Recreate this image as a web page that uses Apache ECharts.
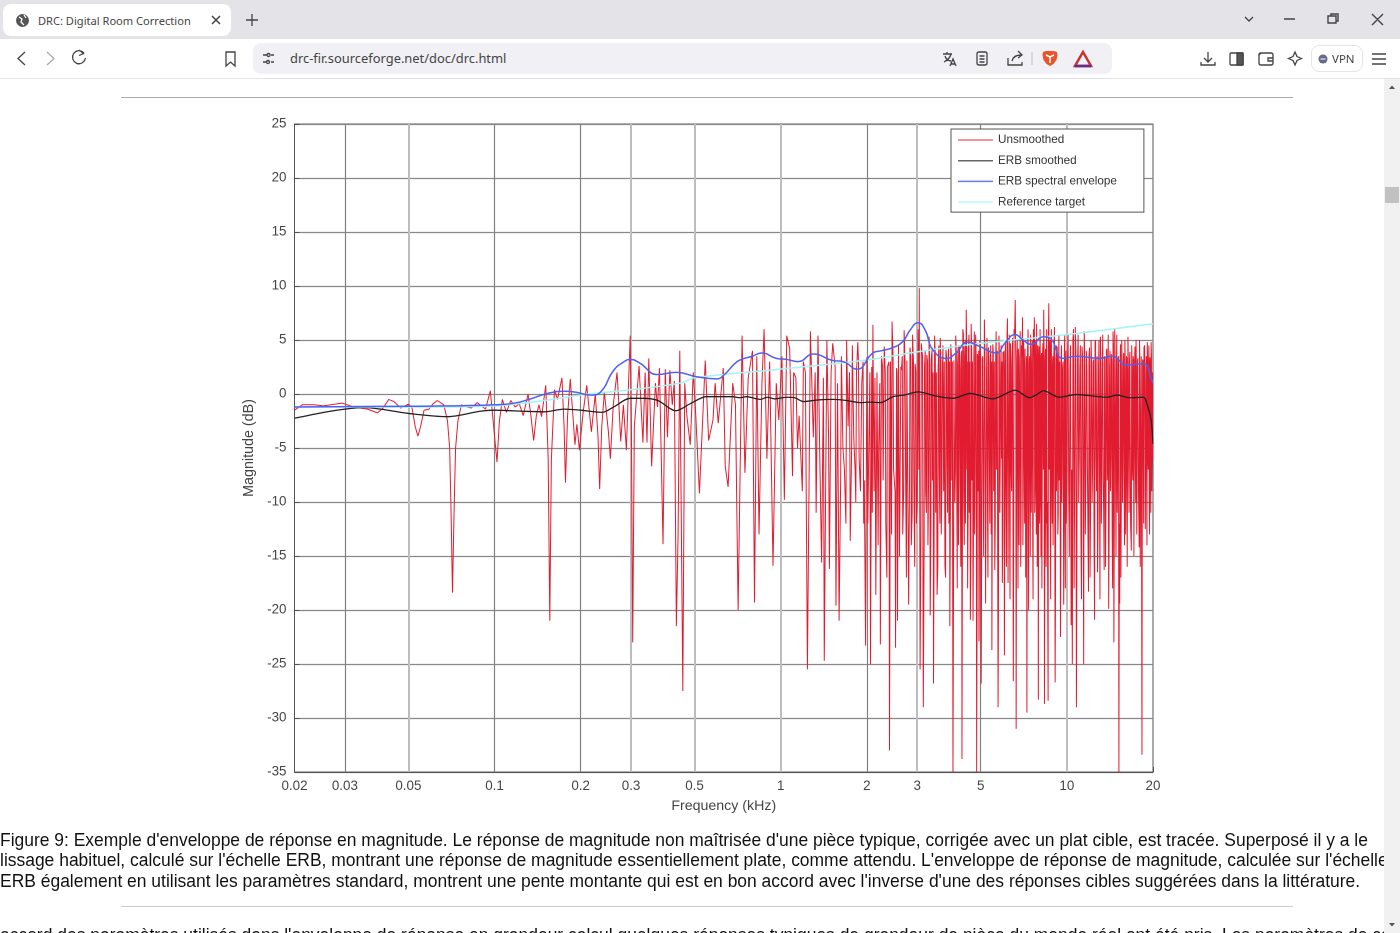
<!DOCTYPE html>
<html><head><meta charset="utf-8">
<script src="https://cdn.jsdelivr.net/npm/echarts@6/dist/echarts.min.js"></script>
<style>
html,body{margin:0;padding:0;width:1400px;height:933px;overflow:hidden;background:#fff;font-family:"Liberation Sans",Arial,sans-serif}
.abs{position:absolute}
#chart{position:absolute;left:0;top:0;width:1400px;height:933px}
.ui{font-family:"Noto Sans",sans-serif;color:#444;white-space:nowrap}
.cap{position:absolute;left:0;width:1384px;overflow:hidden;white-space:nowrap;font-size:17.47px;line-height:20px;color:#111}
svg{position:absolute;overflow:visible}
</style></head><body>
<div id="chart"></div>
<div class="abs" style="left:0;top:0;width:1400px;height:39px;background:#e3e3e8"></div>
<div class="abs" style="left:3px;top:4px;width:228px;height:32px;background:#fff;border-radius:8px"></div>
<div class="abs" style="left:253px;top:43px;width:859px;height:31px;background:#f1f1f5;border-radius:8px"></div>
<div class="abs ui" style="left:38px;top:12px;font-size:11.1px;line-height:17px">DRC: Digital Room Correction</div>
<svg style="left:0;top:0" width="1400" height="80" fill="none" stroke="#444" stroke-width="1.3">
<circle cx="22.5" cy="20.5" r="6.5" fill="#555" stroke="none"/><path d="M19 17l3 2-1 3 3 3M24 15l2 3" stroke="#fff"/>
<path d="M212 16l8 8M220 16l-8 8" stroke-width="1.5"/><path d="M252 14v12M246 20h12"/>
<path d="M1245 17l4 4 4-4M1284 19h11" /><path d="M1328 16h8v7h-8zM1331 16v-2h7v7h-2M1372 14l11 11M1383 14l-11 11" stroke-width="1.4"/>
<path d="M25 52l-7 6.5 7 6.5"/><path d="M47 52l7 6.5-7 6.5" stroke="#aaa"/><path d="M84 53a6.5 6.5 0 1 0 1.5 5M79 50l4.5 3.5-4.5 2"/>
<path d="M226 52h9v14l-4.5-4-4.5 4z"/><path d="M263 55h4M271 55h3M263 62h3M271 62h3"/><circle cx="268.5" cy="55" r="1.5"/><circle cx="268" cy="62" r="1.5"/>
<path d="M943 54h9M947 52v2M951 54c-1 4-3 6-7 8M945 56c1 3 3 5 6 5M950 66l3-7 3 7M951 64h4"/><rect x="977" y="52" width="10" height="13" rx="2"/><path d="M979.500 56h5M979.500 59h5M979.500 62h5"/>
<path d="M1008 58v7h14v-3M1012 61c1-4 4-6 9-6M1018 51l4 4-4 3"/><path d="M1032 52v13" stroke="#ccc"/>
<path d="M1043 52l3-1h8l3 1 .5 3-1 5-3 4-3.500 2-3.500-2-3-4-1-5z" fill="#e8552d" stroke="none"/><path d="M1046 55l4 2 4-2M1050 57v6" stroke="#fff" stroke-width="1.500"/>
<path d="M1083 52l8 14h-16z" fill="none" stroke="#c8302c" stroke-width="2.500"/><path d="M1075 66h16" stroke="#662d91" stroke-width="2.500"/>
<path d="M1208 52v9M1204 58l4 4 4-4M1201 62v3h14v-3"/><rect x="1230" y="53" width="13" height="12" rx="1"/><rect x="1237" y="53" width="6" height="12" fill="#555"/>
<rect x="1259" y="53" width="14" height="12" rx="2"/><path d="M1273 58h-5v3h5M1259 55l2-2"/><path d="M1295 52l2 4.500 4.500 2-4.500 2-2 4.500-2-4.500-4.500-2 4.500-2z"/>
<path d="M1372 54h14M1372 59h14M1372 64h14" stroke-width="1.500"/>
</svg>
<div class="abs" style="left:0;top:78px;width:1400px;height:1px;background:#e2e2e2"></div>
<div class="abs ui" style="left:290px;top:49px;font-size:12.9px;line-height:19px">drc-fir.sourceforge.net/doc/drc.html</div>
<div class="abs ui" style="left:1311px;top:45px;width:52px;height:27px;border:1px solid #e4e4e8;border-radius:8px;box-sizing:border-box"></div>
<svg style="left:0;top:0" width="1400" height="80"><circle cx="1323" cy="59" r="4.500" fill="#666a8a"/><path d="M1320.500 59h5" stroke="#fff"/></svg>
<div class="abs ui" style="left:1332px;top:51px;font-size:11.5px;line-height:15px">VPN</div>
<div class="abs" style="left:121px;top:97px;width:1172px;height:1px;background:#aaa"></div>
<div class="abs" style="left:1384px;top:79px;width:16px;height:854px;background:#f1f1f1"></div>
<div class="abs" style="left:1385px;top:187px;width:14px;height:16px;background:#c1c1c1"></div>
<svg style="left:0;top:0" width="1400" height="933"><path d="M1389 89l3-3.500 3 3.500zM1389 923l3 3.500 3-3.500z" fill="#555"/></svg>
<div class="cap" style="top:830px">Figure 9: Exemple d'enveloppe de réponse en magnitude. Le réponse de magnitude non maîtrisée d'une pièce typique, corrigée avec un plat cible, est tracée. Superposé il y a le</div>
<div class="cap" style="top:850px">lissage habituel, calculé sur l'échelle ERB, montrant une réponse de magnitude essentiellement plate, comme attendu. L'enveloppe de réponse de magnitude, calculée sur l'échelle</div>
<div class="cap" style="top:870.5px">ERB également en utilisant les paramètres standard, montrent une pente montante qui est en bon accord avec l'inverse d'une des réponses cibles suggérées dans la littérature.</div>
<div class="abs" style="left:121px;top:906px;width:1172px;height:1px;background:#ccc"></div>
<div class="cap" style="top:925px">accord des paramètres utilisés dans l'enveloppe de réponse en grandeur calcul quelques réponses typiques de grandeur de pièce du monde réel ont été pris. Les paramètres de calcul</div>
<script>
const xTicks=[0.02,0.03,0.05,0.1,0.2,0.3,0.5,1,2,3,5,10,20];
const narrowGrid=[0.03,0.1,0.2,2,5];
const wideGrid=[0.05,0.3,0.5,1,3,10];
const redLow=[[.02,-1.5],[.0205,-1.3],[.0213,-1],[.0234,-1],[.0253,-1.1],[.0275,-.95],[.0294,-.85],[.0322,-1.2],[.036,-1.4],[.039,-1.75],[.0408,-1.3],[.0427,-.5],[.0445,-.7],[.047,-1.3],[.05,-.95],[.0515,-1.3],[.0528,-3],[.054,-3.9],[.0552,-3],[.0567,-1.5],[.059,-1.4],[.061,-.9],[.0631,-.6],[.0665,-1],[.0685,-2.5],[.0697,-5],[.0705,-11],[.0713,-18.4],[.0722,-11],[.0731,-5],[.0745,-2.5],[.0766,-1],[.08,-1.2],[.083,-1.3],[.087,-.8],[.093,-1.4],[.0967,.3],[.0985,-2],[.102,-6.3],[.104,-2.5],[.1065,-.5],[.11,-1.7],[.114,-.6],[.118,-1.2],[.122,-.9],[.126,-2],[.131,0],[.134,-2],[.137,-4.3],[.14,-2],[.143,-1],[.146,-2.1],[.151,.8],[.154,-6],[.156,-21],[.158,-6],[.162,.4],[.166,-.5],[.172,1.5],[.175,-3],[.177,-8.2],[.18,-2],[.184,1.4],[.191,-4.7],[.194,-2.8],[.198,-5.2],[.204,-1.7],[.21,.8],[.218,-3.5],[.225,0],[.23,-4],[.233,-8.8],[.237,-3],[.242,.2],[.25,-3.5],[.254,-6],[.26,-1],[.268,2],[.272,-1],[.276,-4.4],[.282,-1],[.289,-5.2],[.294,1],[.298,5.4],[.301,-4],[.304,-23],[.308,-3],[.32,2.6],[.33,-4.5],[.336,2],[.341,-4.5]];
const redMid=[[.346,3.3],[.354,-6.7],[.365,1],[.371,-1.2],[.377,2.4],[.388,-13.9],[.395,2.3],[.402,-4],[.41,2.2],[.418,-1],[.425,1.2],[.432,-21.5],[.438,-13],[.444,4],[.455,-27.5],[.462,1],[.47,-2],[.483,-4.7],[.495,2],[.505,-2],[.52,-9.2],[.545,3.1],[.56,-4.3],[.58,-2.4],[.59,1],[.605,-2.7],[.63,2.4],[.64,-6.7],[.655,-8.6],[.68,1],[.695,-1],[.71,-20],[.733,5.4],[.75,-7.3],[.77,1.5],[.797,4],[.81,-19.3],[.825,3.5],[.84,-13],[.86,1],[.875,6],[.895,-6],[.915,3],[.94,-15.9],[.965,1],[.985,-2.4],[1.01,3.5],[1.03,-9.8],[1.05,5.4],[1.075,4.2],[1.1,-7.6],[1.13,1.5],[1.16,-2],[1.2,3],[1.24,-25.5],[1.27,5.8],[1.3,-4],[1.32,2],[1.35,5.4],[1.37,-6],[1.39,-15.6],[1.42,-24.7],[1.45,5],[1.48,-16.2],[1.5,2],[1.52,4.7],[1.56,-19.6],[1.58,1],[1.6,-21],[1.63,3.5],[1.65,-5],[1.67,-7],[1.7,5],[1.72,-3],[1.75,-13.6],[1.78,4.5],[1.8,-4],[1.82,-7],[1.84,2],[1.86,4.8],[1.88,-6],[1.9,-9],[1.92,1],[1.94,3],[1.96,-8]];
const redHighA=[[1.98,-23.3],[2.0,3.4],[2.03,-6],[2.06,-25],[2.08,2.5],[2.1,6.4],[2.12,-9],[2.15,-18.6],[2.17,2],[2.2,-5],[2.23,-23.2],[2.25,3.5],[2.28,-8],[2.3,4.4],[2.33,-12],[2.36,2.5],[2.4,-33],[2.42,3],[2.45,6.7],[2.48,-7],[2.52,-23.5],[2.54,2.4],[2.56,-21],[2.58,4.6],[2.61,-10],[2.64,2.2],[2.67,-13],[2.7,5.9],[2.73,-6],[2.76,3.1],[2.8,-19.5],[2.83,4.3],[2.86,-14],[2.89,5.5],[2.92,-8],[2.95,2.8],[2.98,-12],[3.02,6],[3.05,9.8],[3.07,-25.5],[3.1,4.7],[3.15,-29],[3.18,2.5],[3.21,-9],[3.24,3.6],[3.27,-14],[3.3,5.3],[3.33,-20.5],[3.36,3.2],[3.39,-8],[3.42,-26.8],[3.45,5.4],[3.48,-11],[3.52,-18.6],[3.55,2.4],[3.58,-7],[3.61,5.2],[3.64,-13],[3.67,1.8],[3.71,-9],[3.75,-15.9],[3.78,4.1],[3.81,-6],[3.84,2.7],[3.87,-12],[3.9,-21.5],[3.93,4.6],[3.96,-8],[4.0,-35],[4.03,3.1],[4.06,-10],[4.09,5.4],[4.12,-7],[4.15,2.6],[4.18,-14],[4.21,4.4],[4.24,-6],[4.27,2.3],[4.3,-33.8],[4.33,6],[4.36,-9],[4.39,3.4],[4.42,-12],[4.45,7.8],[4.48,-7],[4.5,-18],[4.53,4.2],[4.56,-11],[4.6,-20.9],[4.63,6.5],[4.66,-8],[4.7,-21],[4.73,3.3],[4.76,-13],[4.8,5.5],[4.84,-35],[4.87,3.7],[4.9,-9],[4.93,-22.9],[4.96,4.9],[5.02,-26.8]];
const redHighB=[[5.06,3.2],[5.1,-8],[5.15,6.9],[5.2,-19.4],[5.24,2.3],[5.28,-10],[5.32,4.3],[5.36,-6],[5.4,2.8],[5.44,-13],[5.47,-23.7],[5.51,4.6],[5.55,-9],[5.6,-16.3],[5.64,3.1],[5.68,-7],[5.75,-29],[5.79,5.4],[5.83,-11],[5.87,2.2],[5.91,-6],[5.95,-17.5],[5.98,3.9],[6.05,-24.2],[6.08,2.4],[6.12,-8],[6.2,7],[6.23,-17.5],[6.27,3.2],[6.31,-12],[6.35,4.7],[6.39,-7],[6.43,2.6],[6.5,-26.6],[6.54,6],[6.6,8.7],[6.65,-31],[6.69,3.4],[6.73,-10],[6.77,4.2],[6.81,-14],[6.85,2.3],[6.9,-16],[6.94,4.5],[7.0,7.1],[7.04,-9],[7.08,3.1],[7.12,-12],[7.16,2.2],[7.2,-7],[7.25,-29.5],[7.29,4.1],[7.35,-20],[7.39,2.9],[7.43,-8],[7.47,5.5],[7.51,-11],[7.55,2.4],[7.6,-14],[7.64,6],[7.7,7.1],[7.74,-9],[7.78,2.7],[7.82,-13],[7.86,3.3],[7.9,-7],[7.95,-28.3],[8.0,4.4],[8.04,-10],[8.08,2.2],[8.12,-15],[8.16,3.8],[8.2,-8],[8.25,4.7],[8.3,7.8],[8.35,-28.7],[8.4,3.1],[8.44,-9],[8.48,2.5],[8.52,-12],[8.6,-28.4],[8.65,8.4],[8.7,3.3],[8.75,-11],[8.8,4.3],[8.85,-7],[8.9,2.4],[8.95,-14],[9.0,3.2],[9.1,-26.7],[9.15,2.8],[9.2,-9],[9.25,4.4],[9.3,-13],[9.35,2.1],[9.4,-8],[9.5,-22.5],[9.55,3.4],[9.6,-10],[9.65,2.2],[9.75,-19.5],[9.8,3.9],[9.85,-7],[9.9,2.5],[9.95,-12]];
const redHighC=[[10.05,3.3],[10.15,-9],[10.25,2.4],[10.35,-21.4],[10.45,-25],[10.55,6],[10.65,-8],[10.7,6.2],[10.8,-29],[10.9,3.1],[11.0,-10],[11.1,2.3],[11.2,-13],[11.3,4.4],[11.45,-25],[11.55,3.2],[11.65,-8],[11.75,2.1],[11.9,-18.3],[12.0,4.3],[12.1,-11],[12.2,2.8],[12.3,-7],[12.4,3.2],[12.5,-20.9],[12.6,4.8],[12.7,-9],[12.8,-16.5],[12.9,2.2],[13.0,-7],[13.1,5.3],[13.2,-12],[13.3,2.4],[13.4,-8],[13.5,-16.3],[13.6,3.3],[13.7,-10],[13.8,4.2],[13.9,-6],[14,-19.9],[14.1,2.3],[14.2,-9],[14.3,3.7],[14.4,-13],[14.5,5.8],[14.6,-23],[14.7,6],[14.8,-8],[14.9,2.2],[15.0,-11],[15.1,3.2],[15.2,-35],[15.3,-19.4],[15.4,4.6],[15.5,-9],[15.6,2.4],[15.7,-7],[15.8,3.8],[15.9,-14],[16,2.2],[16.1,-8],[16.2,3.3],[16.3,-6],[16.4,2.3],[16.5,-11],[16.6,3.9],[16.8,-14.5],[16.9,2.4],[17,-8],[17.1,3.1],[17.2,-6],[17.3,4.4],[17.4,-10],[17.5,2.2],[17.6,-7],[17.7,3.3],[17.9,-14.2],[18,2.4],[18.1,-9],[18.3,-33.4],[18.4,3.2],[18.5,-6],[18.6,4.3],[18.8,-12.5],[18.9,2.2],[19,-8],[19.1,4.8],[19.2,-6],[19.3,2.6],[19.4,-10],[19.5,3.4],[19.6,-7],[19.7,4.8],[19.8,-9],[19.9,2],[20,-6]];
const redFillA=[[1.11,2],[1.145,-5],[1.19,-9],[1.22,2],[1.285,1],[1.33,-11],[1.41,1.5],[1.47,-4],[1.55,2.5],[1.62,-8],[1.69,-12],[1.74,2],[1.77,-5],[1.83,-10],[1.87,3],[1.95,-12],[2.015,-12],[2.05,2],[2.09,-11],[2.135,1.5],[2.19,-14],[2.22,1],[2.27,2.5],[2.32,2],[2.35,-17],[2.39,3],[2.44,-13],[2.47,3.5],[2.51,-9],[2.55,2],[2.6,-15],[2.63,2.5],[2.66,3.5],[2.69,-9],[2.72,3],[2.75,-17],[2.79,3],[2.82,-8],[2.85,3.5],[2.88,-11],[2.91,3],[2.94,-16],[2.97,2],[3.0,-10],[3.04,-7],[3.09,-13],[3.13,3.5],[3.17,-15],[3.2,4],[3.23,-11],[3.26,3],[3.29,-7],[3.32,2.5],[3.35,-12],[3.38,4.2],[3.41,2],[3.44,-9],[3.47,3.5],[3.5,2],[3.54,-16],[3.57,4.5],[3.6,-12],[3.63,3],[3.66,-8],[3.69,4.5],[3.73,3],[3.77,-17],[3.8,3.5],[3.83,-11],[3.86,4.2],[3.89,3],[3.92,-9],[3.95,3.5],[3.98,3],[4.02,-15],[4.05,3],[4.08,-7],[4.11,3.5],[4.14,-18],[4.17,4.5],[4.2,-8],[4.23,3.5],[4.26,-16],[4.29,4],[4.32,-7],[4.35,5.5],[4.38,-14],[4.41,5],[4.44,-6],[4.47,4],[4.49,3],[4.52,-10],[4.55,5.5],[4.58,3],[4.62,-15],[4.65,4],[4.68,3],[4.72,-11],[4.75,5.8],[4.78,-7],[4.82,3.5],[4.86,-15],[4.89,3],[4.92,4],[4.95,-13],[4.99,3.5]];
const redFillB=[[5.04,-13],[5.08,3.5],[5.12,-15],[5.17,4],[5.22,-9],[5.26,5.2],[5.3,-17],[5.34,3.5],[5.38,-12],[5.42,4.5],[5.46,3],[5.49,-8],[5.53,4],[5.58,3],[5.62,-12],[5.66,5.8],[5.71,4],[5.77,-18],[5.81,3.5],[5.85,-6],[5.89,4.5],[5.93,3],[5.97,-13],[6.01,3.5],[6.03,4],[6.07,-11],[6.1,5],[6.15,-16],[6.18,5.5],[6.25,-7],[6.29,5.5],[6.33,-19],[6.37,3.5],[6.41,-9],[6.46,5.2],[6.52,-12],[6.57,5.5],[6.63,3],[6.67,-9],[6.71,5],[6.75,-18],[6.79,3.5],[6.83,-7],[6.87,5.8],[6.92,-11],[6.97,3.5],[7.02,-14],[7.06,5],[7.1,-6],[7.14,4.2],[7.18,-17],[7.23,3.5],[7.27,-12],[7.32,6],[7.37,-8],[7.41,3.5],[7.45,-15],[7.49,4],[7.53,-6],[7.57,5],[7.62,-19],[7.67,3.5],[7.72,-11],[7.76,5],[7.8,-8],[7.84,6.5],[7.88,-16],[7.92,4.5],[7.97,3],[8.02,-12],[8.06,6],[8.1,-9],[8.14,3.5],[8.18,-18],[8.22,3.5],[8.28,-7],[8.33,3],[8.38,-13],[8.42,4.2],[8.46,-16],[8.5,6],[8.55,-10],[8.62,5.5],[8.68,-7],[8.73,5],[8.78,-19],[8.83,6],[8.88,-12],[8.93,3.5],[8.98,-8],[9.05,6.2],[9.13,-17],[9.18,4.5],[9.23,-6],[9.28,3],[9.33,-11],[9.38,5.5],[9.45,3],[9.53,-15],[9.58,4.5],[9.63,-7],[9.7,3],[9.78,-12],[9.83,5.5],[9.88,-18],[9.93,4],[10,-8]];
const redFillC=[[10.1,5.5],[10.2,-15],[10.3,4.5],[10.4,-7],[10.5,5],[10.6,-18],[10.75,4],[10.85,-12],[10.95,5.5],[11.05,-6],[11.15,4.5],[11.25,-19],[11.35,3.5],[11.4,-8],[11.5,5.8],[11.6,-13],[11.7,4],[11.8,-7],[11.95,3.5],[12.05,-17],[12.15,5],[12.25,-10],[12.35,3],[12.45,-14],[12.55,5],[12.65,-6],[12.75,3.5],[12.85,-12],[12.95,5],[13.05,-19],[13.15,3],[13.25,-7],[13.35,5.5],[13.45,-11],[13.55,3.5],[13.65,-16],[13.75,4],[13.85,-8],[13.95,5.5],[14.05,-13],[14.15,4],[14.25,-6],[14.35,3],[14.45,-18],[14.55,4.5],[14.65,-11],[14.75,3],[14.85,-15],[14.95,5.5],[15.05,-7],[15.15,3.5],[15.25,-12],[15.35,3],[15.45,-17],[15.55,5],[15.65,-10],[15.75,3],[15.85,-6],[15.95,5],[16.05,-13],[16.15,3.5],[16.25,-16],[16.35,5.3],[16.45,-8],[16.55,3],[16.7,-12],[16.85,4.5],[16.95,-7],[17.05,3.5],[17.15,-15],[17.25,3],[17.35,-6],[17.45,5],[17.55,-13],[17.65,3],[17.8,-9],[17.95,5],[18.05,-16],[18.2,3.5],[18.35,-7],[18.45,3],[18.55,-12],[18.7,4.5],[18.85,-6],[18.95,3.5],[19.05,-14],[19.15,3],[19.25,-7],[19.35,4.5],[19.45,-13],[19.55,3],[19.65,-11],[19.75,3.5],[19.85,-5]];
const erbSmoothed=[[.02,-2.25],[.0253,-1.7],[.03,-1.4],[.0349,-1.25],[.05,-1.8],[.0683,-2.1],[.089,-1.6],[.1,-1.5],[.127,-1.6],[.149,-1.65],[.175,-1.4],[.2,-1.5],[.238,-1.7],[.261,-1.2],[.298,-.4],[.33,-.4],[.372,-.6],[.43,-1.55],[.483,-.9],[.55,-.25],[.68,-.25],[.72,-.35],[.76,-.25],[.847,-.5],[.9,-.3],[.95,-.45],[1.05,-.3],[1.12,-.35],[1.2,-.7],[1.35,-.55],[1.52,-.5],[1.7,-.6],[1.9,-.8],[2.05,-.75],[2.23,-.8],[2.47,-.25],[2.7,-.1],[3.02,.2],[3.5,-.2],[4,-.4],[4.6,.05],[5.5,-.45],[6.6,.35],[7.4,-.35],[7.8,-.1],[8.3,.3],[9.4,-.3],[10.8,-.05],[13.8,-.3],[15,-.1],[16.6,-.35],[18.5,-.3],[19.2,-1.2],[19.7,-2.4],[20,-4.6]];
const erbEnvelope=[[.02,-1.2],[.04,-1.15],[.07,-1.1],[.1,-1],[.117,-.85],[.132,-.5],[.153,.05],[.175,.25],[.189,.2],[.218,-.1],[.235,.2],[.261,2.2],[.284,3],[.298,3.2],[.32,2.9],[.372,1.8],[.43,2],[.508,1.6],[.597,1.4],[.636,1.8],[.69,2.8],[.729,3.2],[.797,3.5],[.858,3.8],[.966,3.3],[1.05,3.2],[1.15,3],[1.3,3.7],[1.52,3.1],[1.65,3],[1.85,2.3],[2.1,3.8],[2.24,4],[2.47,4.3],[2.68,4.9],[2.83,5.9],[3.02,6.6],[3.2,5.9],[3.4,4.1],[3.8,3.3],[4.1,3.8],[4.5,4.8],[4.96,4.4],[5.68,3.8],[6.07,4.7],[6.6,5.5],[7.03,5],[7.5,4.6],[8.3,5.3],[8.7,5.2],[9.7,3.3],[10.8,3.5],[13,3.3],[14.4,3.5],[16.1,2.7],[18.5,2.8],[19.8,1.3],[20,1]];
const referenceTarget=[[.02,-1.2],[.07,-1.2],[.1,-1.1],[.117,-.95],[.15,-.6],[.2,-.1],[.3,.4],[.445,1],[.5,1.5],[1,2.3],[2,3.15],[3,3.9],[5,4.7],[10,5.5],[20,6.5]];
const yMin=-35,yMax=25,yStep=5;
const unsmoothed=[...redLow,...redMid,...redHighA,...redHighB,...redHighC,...redFillA,...redFillB,...redFillC].sort((a,b)=>a[0]-b[0]);
const gridLine=(v,style)=>({xAxis:v,lineStyle:style});
const chart=echarts.init(document.getElementById('chart'),null,{renderer:'canvas',devicePixelRatio:2});
const lab={color:'#444',fontFamily:'"Liberation Sans",Arial,sans-serif',fontSize:13.4};
const line=(name,data,color,width,z,smooth)=>({name,type:'line',data,showSymbol:false,symbol:'none',z,smooth,silent:true,sampling:false,color,lineStyle:{color,width,join:'bevel'},animation:false});
chart.setOption({
 animation:false,
 grid:{left:294.5,top:124,width:858.5,height:648,show:true,borderColor:'#555',borderWidth:1,backgroundColor:'transparent'},
 legend:{orient:'vertical',left:951,top:129,padding:[5,27,4,7],itemGap:8.7,itemWidth:35,itemHeight:1.5,icon:'rect',borderColor:'#555',borderWidth:1,backgroundColor:'#fff',textStyle:{color:'#333',fontSize:11.7,fontFamily:lab.fontFamily},data:[{name:'Unsmoothed',itemStyle:{color:'#ee6f7c'}},{name:'ERB smoothed',itemStyle:{color:'#666'}},{name:'ERB spectral envelope',itemStyle:{color:'#7078f0'}},{name:'Reference target',itemStyle:{color:'#b8fbfb'}}],selectedMode:false,z:20},
 xAxis:{type:'log',min:0.02,max:20,logBase:10,name:'Frequency (kHz)',nameLocation:'middle',nameGap:27,nameTextStyle:{...lab,fontSize:14.2},
  axisLine:{onZero:false,lineStyle:{color:'#555'}},axisTick:{customValues:xTicks,inside:true,length:5,lineStyle:{color:'#555'}},
  axisLabel:{...lab,margin:8,customValues:xTicks,showMinLabel:true,showMaxLabel:true,hideOverlap:false,formatter:v=>String(+(+v).toPrecision(3))},splitLine:{show:false},minorTick:{show:false},minorSplitLine:{show:false}},
 yAxis:{type:'value',min:yMin,max:yMax,interval:yStep,name:'Magnitude (dB)',nameLocation:'middle',nameGap:37,nameTextStyle:{...lab,fontSize:14.3},
  axisLine:{onZero:false,show:true,lineStyle:{color:'#555'}},axisTick:{inside:true,length:5,lineStyle:{color:'#555'}},axisLabel:{...lab,margin:8,padding:[2,0,0,0]},splitLine:{show:true,lineStyle:{color:'#888',width:1.2}}},
 series:[
  {name:'grid',type:'line',data:[],silent:true,z:1,markLine:{z:1,silent:true,symbol:'none',label:{show:false},animation:false,data:[...narrowGrid.map(v=>gridLine(v,{color:'#808080',width:1.2,type:'solid'})),...wideGrid.map(v=>gridLine(v,{color:'#bdbdbd',width:2,type:'solid'}))]}},
  line('Unsmoothed',unsmoothed,'#e21c30',1,3,false),
  line('ERB smoothed',erbSmoothed,'#222222',1.3,4,0.3),
  line('Reference target',referenceTarget,'#9ff5f7',1.5,5,0.3),
  line('ERB spectral envelope',erbEnvelope,'#5060f0',1.5,6,0.5)
 ]
});
</script>
</body></html>
